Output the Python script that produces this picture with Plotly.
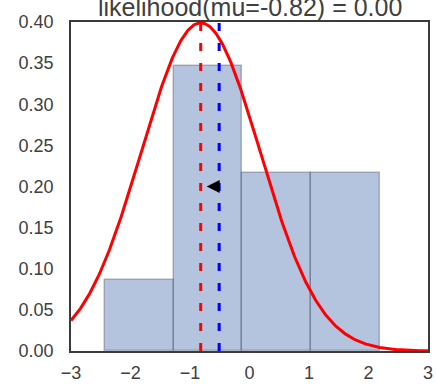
import numpy as np
import plotly.graph_objects as go

bin_edges = [-2.43, -1.275, -0.12, 1.035, 2.19]
bin_counts = [2, 8, 5, 5]
n_obs = 20

# Current and proposed mean of the likelihood
mu_current = -0.51
mu_proposal = -0.82
sigma = 1.0
arrow_y = 0.2

title_text = "likelihood(mu=-0.82) = 0.00"

x_ticks = [-3, -2, -1, 0, 1, 2, 3]
y_ticks = [0.0, 0.05, 0.10, 0.15, 0.20, 0.25, 0.30, 0.35, 0.40]

edges = np.array(bin_edges)
widths = np.diff(edges)
centers = edges[:-1] + widths / 2
density = np.array(bin_counts) / (n_obs * widths)

xs = np.linspace(-3, 3, 400)
ys = np.exp(-0.5 * ((xs - mu_proposal) / sigma) ** 2) / (sigma * np.sqrt(2 * np.pi))

font_family = "Liberation Sans, Arial, sans-serif"
axis_col = "#3b3b3b"
text_col = "#404040"

fig = go.Figure()
fig.add_trace(go.Bar(
    x=centers, y=density, width=widths,
    marker=dict(color="rgba(76,114,176,0.42)",
                line=dict(color="rgba(90,100,125,0.45)", width=1.5)),
    showlegend=False, hoverinfo="skip",
))
fig.add_trace(go.Scatter(
    x=xs, y=ys, mode="lines",
    line=dict(color="#ff0000", width=3),
    showlegend=False, hoverinfo="skip",
))
fig.add_trace(go.Scatter(
    x=[mu_current, mu_current], y=[0, 0.4], mode="lines",
    line=dict(color="#0000ff", width=3, dash="8px,12px"),
    showlegend=False, hoverinfo="skip",
))
fig.add_trace(go.Scatter(
    x=[mu_proposal, mu_proposal], y=[0, 0.4], mode="lines",
    line=dict(color="#ff0000", width=3, dash="8px,12px"),
    showlegend=False, hoverinfo="skip",
))

fig.add_annotation(
    x=mu_proposal, y=arrow_y, ax=mu_current, ay=arrow_y,
    xref="x", yref="y", axref="x", ayref="y",
    text="", showarrow=True, arrowhead=2, arrowsize=1.3,
    arrowwidth=2, arrowcolor="#000000", standoff=6,
)
fig.add_annotation(
    x=0.5, y=1, xref="paper", yref="paper", xanchor="center", yanchor="bottom",
    text=title_text, showarrow=False, yshift=-1,
    font=dict(family=font_family, size=25, color=text_col),
)

fig.update_layout(
    width=436, height=384,
    margin=dict(l=71, r=8, t=22, b=33, autoexpand=False),
    paper_bgcolor="white", plot_bgcolor="white",
    bargap=0,
    font=dict(family=font_family, size=18, color=text_col),
)
fig.update_xaxes(
    range=[-3, 3], tickvals=x_ticks, ticktext=[str(v).replace("-", "\u2212") for v in x_ticks],
    showgrid=False, zeroline=False, showline=True, mirror=True,
    linecolor=axis_col, linewidth=1.5, automargin=False,
    ticks="outside", ticklen=5, tickcolor="rgba(0,0,0,0)",
)
fig.update_yaxes(
    range=[0, 0.4], tickvals=y_ticks, tickformat=".2f",
    showgrid=False, zeroline=False, showline=True, mirror=True,
    linecolor=axis_col, linewidth=1.5, automargin=False,
    ticks="outside", ticklen=12, tickcolor="rgba(0,0,0,0)",
)

fig.write_html("out.html")
